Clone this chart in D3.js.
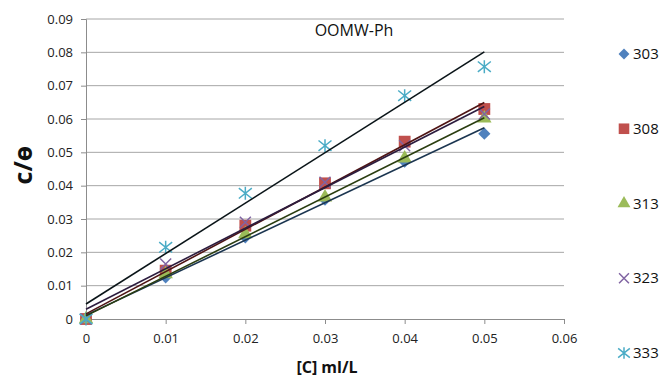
<!DOCTYPE html>
<html>
<head>
<meta charset="utf-8">
<script src="https://cdn.jsdelivr.net/npm/d3@7"></script>
<style>
  body { margin: 0; background: #fff; }
  text { font-family: "Open Sans", "Noto Sans", sans-serif; }
</style>
</head>
<body>
<div id="chart"></div>
<script>
// concentrations
const conc = [0, 0.01, 0.02, 0.03, 0.04, 0.05];
// C/theta per temperature
const s303 = [0, 0.0125, 0.0245, 0.0358, 0.0472, 0.0556];
const s308 = [0, 0.0145, 0.028, 0.0407, 0.0532, 0.063];
const s313 = [0, 0.0135, 0.0255, 0.0365, 0.0482, 0.0602];
const s323 = [0, 0.0165, 0.029, 0.041, 0.052, 0.0615];
const s333 = [0, 0.0215, 0.0377, 0.052, 0.067, 0.0757];
const seriesNames = ["303", "308", "313", "323", "333"];
const xTicks = [0, 0.01, 0.02, 0.03, 0.04, 0.05, 0.06];
const yTicks = [0, 0.01, 0.02, 0.03, 0.04, 0.05, 0.06, 0.07, 0.08, 0.09];

// excel-like open markers; size = half width
const crossSym = { draw(ctx, r) {
  ctx.moveTo(-r, -r); ctx.lineTo(r, r);
  ctx.moveTo(r, -r); ctx.lineTo(-r, r);
}};
const starSym = { draw(ctx, r) {
  ctx.moveTo(-r, -r * 0.8); ctx.lineTo(r, r * 0.8);
  ctx.moveTo(r, -r * 0.8); ctx.lineTo(-r, r * 0.8);
  ctx.moveTo(0, -r); ctx.lineTo(0, r);
}};

const series = [
  { name: "303", vals: s303, color: "#4F81BD", line: "#1b3550", sym: d3.symbolDiamond2, size: 95, open: false },
  { name: "308", vals: s308, color: "#C0504D", line: "#4e1414", sym: d3.symbolSquare, size: 140, open: false },
  { name: "313", vals: s313, color: "#9BBB59", line: "#2a3d10", sym: d3.symbolTriangle, size: 90, open: false },
  { name: "323", vals: s323, color: "#8064A2", line: "#2c1c3e", sym: crossSym, size: 5.5, open: true },
  { name: "333", vals: s333, color: "#4BACC6", line: "#0a1418", sym: starSym, size: 6.5, open: true }
];

const width = 661, height = 378;
const svg = d3.select("#chart").append("svg")
  .attr("width", width).attr("height", height);

const x = d3.scaleLinear().domain([0, 0.06]).range([86, 564]);
const y = d3.scaleLinear().domain([0, 0.09]).range([319, 19]);

// gridlines
svg.append("g").selectAll("line").data(yTicks.slice(1)).enter().append("line")
  .attr("x1", x(0)).attr("x2", x(0.06))
  .attr("y1", d => y(d)).attr("y2", d => y(d))
  .attr("stroke", "#a6a6a6").attr("stroke-width", 1);

const xAxis = svg.append("g").attr("transform", `translate(0,${y(0)})`)
  .call(d3.axisBottom(x).tickValues(xTicks).tickSize(5).tickPadding(10)
    .tickFormat(d => d === 0 ? "0" : d3.format(".2f")(d)));
const yAxis = svg.append("g").attr("transform", `translate(${x(0)},0)`)
  .call(d3.axisLeft(y).tickValues(yTicks).tickSize(5).tickPadding(8)
    .tickFormat(d => d === 0 ? "0" : d3.format(".2f")(d)));
[xAxis, yAxis].forEach(a => {
  a.select(".domain").attr("stroke", "#8c8c8c");
  a.selectAll(".tick line").attr("stroke", "#8c8c8c");
  a.selectAll(".tick text").attr("fill", "#222").style("font-size", "13px")
    .style("font-family", "'Open Sans', sans-serif");
});

// linear trend lines (least squares)
function fit(xs, ys) {
  const mx = d3.mean(xs), my = d3.mean(ys);
  let sxy = 0, sxx = 0;
  xs.forEach((v, i) => { sxy += (v - mx) * (ys[i] - my); sxx += (v - mx) * (v - mx); });
  const m = sxy / sxx;
  return { m, b: my - m * mx };
}

function marker(sel, s, scale) {
  sel.attr("d", d3.symbol().type(s.sym).size(s.size * scale))
    .attr("fill", s.open ? "none" : s.color)
    .attr("stroke", s.open ? s.color : "none")
    .attr("stroke-width", 1.5);
}

const markers = svg.append("g");
series.forEach(s => {
  markers.selectAll(null).data(conc.map((c, i) => [c, s.vals[i]])).enter().append("path")
    .attr("transform", d => `translate(${x(d[0])},${y(d[1])})`)
    .call(marker, s, 1);
});

const lines = svg.append("g");
series.forEach(s => {
  const f = fit(conc, s.vals);
  const x0 = d3.min(conc), x1 = d3.max(conc);
  lines.append("line")
    .attr("x1", x(x0)).attr("y1", y(f.m * x0 + f.b))
    .attr("x2", x(x1)).attr("y2", y(f.m * x1 + f.b))
    .attr("stroke", s.line).attr("stroke-width", 1.6);
});

// title
svg.append("text").attr("x", 354).attr("y", 36).attr("text-anchor", "middle")
  .style("font-size", "16px").attr("fill", "#111").text("OOMW-Ph");

// axis titles
svg.append("text").attr("x", 327).attr("y", 373).attr("text-anchor", "middle")
  .style("font-size", "16px").style("font-weight", "bold").attr("fill", "#111").text("[C] ml/L");
svg.append("text").attr("transform", "translate(32,165) rotate(-90)").attr("text-anchor", "middle")
  .style("font-size", "25px").style("font-weight", "bold").attr("fill", "#111").text("c/ɵ");

// legend
const legY = d3.scalePoint().domain(seriesNames).range([54, 353]);
const leg = svg.append("g");
series.forEach(s => {
  leg.append("path")
    .attr("transform", `translate(624,${legY(s.name)})`)
    .call(marker, s, s.open ? 0.9 : 0.8);
  leg.append("text").attr("x", 633).attr("y", legY(s.name) + 5)
    .style("font-size", "15px").attr("fill", "#111").text(s.name);
});
</script>
</body>
</html>
